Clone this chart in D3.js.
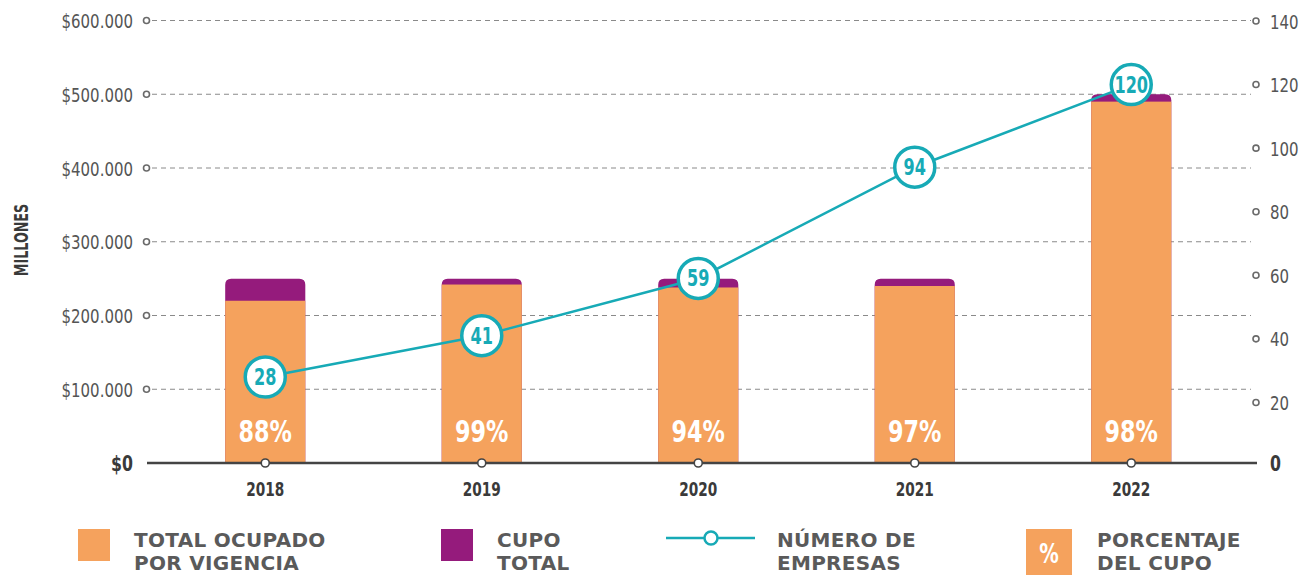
<!DOCTYPE html>
<html>
<head>
<meta charset="utf-8">
<script src="https://cdn.jsdelivr.net/npm/d3@7"></script>
<style>
  body { margin: 0; background: #fff; }
  svg { display: block; }
  .num { font-family: "DejaVu Sans", sans-serif; }
  .leg { font-family: "DejaVu Sans", sans-serif; font-weight: bold; }
</style>
</head>
<body>
<svg id="chart" width="1301" height="575"></svg>
<script>
// data
var years = ['2018', '2019', '2020', '2021', '2022'];
var cupoTotal = [250000, 250000, 250000, 250000, 500000];
var ocupado = [220000, 242000, 238000, 240000, 490000];
var porcentaje = [88, 99, 94, 97, 98];
var empresas = [28, 41, 59, 94, 120];
var leftTicks = [0, 100000, 200000, 300000, 400000, 500000, 600000];
var rightTicks = [0, 20, 40, 60, 80, 100, 120, 140];

var ORANGE = '#F5A25D', PURPLE = '#951B7C', TEAL = '#17AAB6', GRAY = '#5a5a5a';

// narrow text: no condensed font installed, so squeeze horizontally
function place(px, py, sx) {
	return 'translate(' + px + ',' + py + ') scale(' + sx + ',1)';
}

function drawChart() {
	var svg = d3.select('#chart');

	var x = d3.scaleBand()
		.domain(years)
		.range([157, 1239.5])
		.paddingInner(0.63)
		.paddingOuter(0.315);
	var yLeft = d3.scaleLinear().domain([0, 600000]).range([463, 20.5]);
	var yRight = d3.scaleLinear().domain([0, 140]).range([466, 21]);

	var locale = d3.formatLocale({ decimal: ',', thousands: '.', grouping: [3], currency: ['$', ''] });
	var fmt = locale.format('$,');

	// gridlines (left axis)
	svg.append('g').selectAll('line')
		.data(leftTicks.filter(function (d) { return d > 0; }))
		.enter().append('line')
		.attr('x1', 152).attr('x2', 1251)
		.attr('y1', function (d) { return yLeft(d); })
		.attr('y2', function (d) { return yLeft(d); })
		.attr('stroke', '#8a8a8a')
		.attr('stroke-width', 1)
		.attr('stroke-dasharray', '5,4');

	// left axis
	var gl = svg.append('g');
	gl.selectAll('circle')
		.data(leftTicks.filter(function (d) { return d > 0; }))
		.enter().append('circle')
		.attr('cx', 146.5).attr('cy', function (d) { return yLeft(d); })
		.attr('r', 3).attr('fill', '#fff').attr('stroke', '#6a6a6a').attr('stroke-width', 1.6);
	gl.selectAll('text')
		.data(leftTicks)
		.enter().append('text')
		.attr('class', 'num')
		.attr('transform', function (d) { return place(133, yLeft(d) + 7.5, 0.75); })
		.attr('text-anchor', 'end')
		.attr('font-size', function (d) { return d === 0 ? 21 : 20; })
		.attr('font-weight', function (d) { return d === 0 ? 'bold' : 'normal'; })
		.attr('fill', function (d) { return d === 0 ? '#3a3a3a' : '#555'; })
		.text(function (d) { return fmt(d); });

	// right axis
	var gr = svg.append('g');
	gr.selectAll('circle')
		.data(rightTicks.filter(function (d) { return d > 0; }))
		.enter().append('circle')
		.attr('cx', 1256).attr('cy', function (d) { return yRight(d); })
		.attr('r', 3).attr('fill', '#fff').attr('stroke', '#6a6a6a').attr('stroke-width', 1.6);
	gr.selectAll('text')
		.data(rightTicks)
		.enter().append('text')
		.attr('class', 'num')
		.attr('transform', function (d) { return place(1270, (d === 0 ? 463 : yRight(d)) + 7.5, 0.75); })
		.attr('font-size', function (d) { return d === 0 ? 21 : 20; })
		.attr('font-weight', function (d) { return d === 0 ? 'bold' : 'normal'; })
		.attr('fill', function (d) { return d === 0 ? '#3a3a3a' : '#555'; })
		.text(function (d) { return d; });

	// MILLONES
	svg.append('text')
		.attr('class', 'num')
		.attr('transform', 'translate(28,240) rotate(-90) scale(0.67,1)')
		.attr('text-anchor', 'middle')
		.attr('font-size', 19)
		.attr('font-weight', 'bold')
		.attr('fill', '#3a3a3a')
		.text('MILLONES');

	// bars: cupo total (rounded top) then ocupado
	var bw = x.bandwidth(), r = 6;
	function topRounded(x0, y0, w, h) {
		return 'M' + x0 + ',' + (y0 + h) +
			'V' + (y0 + r) +
			'Q' + x0 + ',' + y0 + ' ' + (x0 + r) + ',' + y0 +
			'H' + (x0 + w - r) +
			'Q' + (x0 + w) + ',' + y0 + ' ' + (x0 + w) + ',' + (y0 + r) +
			'V' + (y0 + h) + 'Z';
	}
	var bars = svg.append('g');
	bars.selectAll('.cupo')
		.data(years)
		.enter().append('path')
		.attr('class', 'cupo')
		.attr('fill', PURPLE)
		.attr('d', function (d, i) {
			var yt = yLeft(cupoTotal[i]);
			return topRounded(x(d), yt, bw, yLeft(0) - yt);
		});
	bars.selectAll('.ocup')
		.data(years)
		.enter().append('rect')
		.attr('class', 'ocup')
		.attr('fill', ORANGE)
		.attr('x', function (d) { return x(d); })
		.attr('width', bw)
		.attr('y', function (d, i) { return yLeft(ocupado[i]); })
		.attr('height', function (d, i) { return yLeft(0) - yLeft(ocupado[i]); });

	// percentage labels
	svg.append('g').selectAll('text')
		.data(years)
		.enter().append('text')
		.attr('class', 'num')
		.attr('transform', function (d) { return place(x(d) + bw / 2, 442, 0.72); })
		.attr('text-anchor', 'middle')
		.attr('font-size', 31)
		.attr('font-weight', 'bold')
		.attr('fill', '#fff')
		.text(function (d, i) { return porcentaje[i] + '%'; });

	// baseline
	svg.append('line')
		.attr('x1', 147).attr('x2', 1257)
		.attr('y1', 463).attr('y2', 463)
		.attr('stroke', '#444').attr('stroke-width', 2.5);

	// x ticks and labels
	var gx = svg.append('g');
	gx.selectAll('circle')
		.data(years)
		.enter().append('circle')
		.attr('cx', function (d) { return x(d) + bw / 2; })
		.attr('cy', 463)
		.attr('r', 4).attr('fill', '#fff').attr('stroke', '#444').attr('stroke-width', 1.6);
	gx.selectAll('text')
		.data(years)
		.enter().append('text')
		.attr('class', 'num')
		.attr('transform', function (d) { return place(x(d) + bw / 2, 496, 0.72); })
		.attr('text-anchor', 'middle')
		.attr('font-size', 19)
		.attr('font-weight', 'bold')
		.attr('fill', '#3a3a3a')
		.text(function (d) { return d; });

	// line: numero de empresas
	var line = d3.line()
		.x(function (d, i) { return x(years[i]) + bw / 2; })
		.y(function (d) { return yRight(d); });
	svg.append('path')
		.datum(empresas)
		.attr('d', line)
		.attr('fill', 'none')
		.attr('stroke', TEAL)
		.attr('stroke-width', 2.5);

	var pts = svg.append('g').selectAll('g')
		.data(empresas)
		.enter().append('g')
		.attr('transform', function (d, i) {
			return 'translate(' + (x(years[i]) + bw / 2) + ',' + yRight(d) + ')';
		});
	pts.append('circle')
		.attr('r', 20)
		.attr('fill', '#fff')
		.attr('stroke', TEAL)
		.attr('stroke-width', 3.5);
	pts.append('text')
		.attr('class', 'num')
		.attr('transform', 'translate(0,8) scale(0.7,1)')
		.attr('text-anchor', 'middle')
		.attr('font-size', 23)
		.attr('font-weight', 'bold')
		.attr('fill', TEAL)
		.text(function (d) { return d; });

	// legend
	var lg = svg.append('g');
	lg.append('rect').attr('x', 78).attr('y', 529).attr('width', 32).attr('height', 32).attr('fill', ORANGE);
	lg.append('rect').attr('x', 441).attr('y', 529).attr('width', 32).attr('height', 32).attr('fill', PURPLE);
	lg.append('line').attr('x1', 666).attr('x2', 755).attr('y1', 538).attr('y2', 538)
		.attr('stroke', TEAL).attr('stroke-width', 2.5);
	lg.append('circle').attr('cx', 711).attr('cy', 538).attr('r', 6.5)
		.attr('fill', '#fff').attr('stroke', TEAL).attr('stroke-width', 2.5);
	lg.append('rect').attr('x', 1026).attr('y', 529).attr('width', 46).attr('height', 46).attr('fill', ORANGE);
	lg.append('text').attr('class', 'num')
		.attr('transform', place(1049, 563, 0.75))
		.attr('text-anchor', 'middle').attr('font-size', 26).attr('font-weight', 'bold')
		.attr('fill', '#fff').text('%');

	var legendItems = [
		{ x: 134, lines: ['TOTAL OCUPADO', 'POR VIGENCIA'] },
		{ x: 497, lines: ['CUPO', 'TOTAL'] },
		{ x: 777, lines: ['NÚMERO DE', 'EMPRESAS'] },
		{ x: 1097, lines: ['PORCENTAJE', 'DEL CUPO'] }
	];
	legendItems.forEach(function (it) {
		var t = lg.append('text')
			.attr('class', 'leg')
			.attr('x', it.x).attr('y', 547)
			.attr('font-size', 20)
			.attr('letter-spacing', 0.3)
			.attr('fill', GRAY);
		it.lines.forEach(function (s, j) {
			t.append('tspan').attr('x', it.x).attr('dy', j === 0 ? 0 : 23).text(s);
		});
	});
}

drawChart();
</script>
</body>
</html>
